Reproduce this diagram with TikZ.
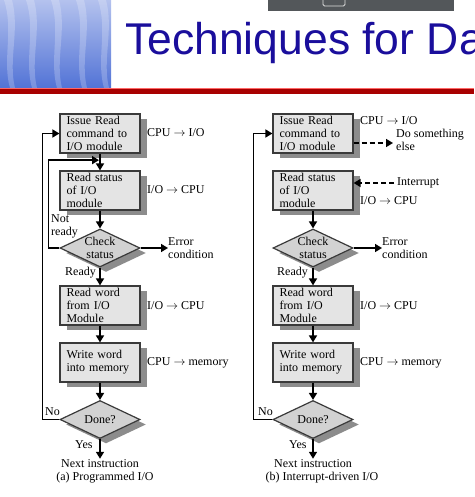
\documentclass[tikz,border=0pt]{standalone}
\usepackage{fontspec}
\setmainfont{Liberation Serif}
\newfontfamily\titlefont{Liberation Sans}
\usetikzlibrary{arrows.meta,shapes.geometric,shadows,calc}
\definecolor{titleblue}{HTML}{1A0E9C}
\definecolor{redline}{HTML}{A80000}
\definecolor{barGray}{HTML}{53575A}
\definecolor{boxfill}{HTML}{E4E4E4}
\definecolor{diafill}{HTML}{D2D2D2}
\definecolor{boxborder}{HTML}{3A3A3A}
\definecolor{shadowgray}{HTML}{8C8C8C}
\definecolor{hdrtop}{HTML}{B4C2EE}
\definecolor{hdrbot}{HTML}{5273D6}
\begin{document}
\begin{tikzpicture}[x=1pt,y=-1pt,
  every node/.style={font=\fontsize{12}{12.8}\selectfont},
  box/.style={draw=boxborder, line width=1.2pt, fill=boxfill, minimum width=80pt,
    minimum height=39pt, text width=67pt, inner xsep=6.5pt, inner ysep=0pt, align=left,
    drop shadow={shadow xshift=7pt, shadow yshift=-5pt, opacity=1, fill=shadowgray}},
  dia/.style={draw=boxborder, line width=1.2pt, fill=diafill, diamond, minimum width=80pt,
    minimum height=38pt, inner sep=0pt,
    drop shadow={shadow xshift=6pt, shadow yshift=-5pt, opacity=1, fill=shadowgray}},
  dtext/.style={inner sep=0pt, align=center},
  arr/.style={line width=1.6pt, -{Triangle[length=7pt,width=8pt]}},
  darr/.style={arr, dash pattern=on 5pt off 3pt},
  lbl/.style={inner sep=0pt, anchor=west, align=left},
  captxt/.style={inner sep=1pt, align=center}
]
\useasboundingbox (0,0) rectangle (474,497);
\begin{scope}
\clip (0,0) rectangle (474,497);
% header
\shade[top color=hdrtop, bottom color=hdrbot] (0,0) rectangle (111,88);
\foreach \xx in {8,30,55,80,102}{
  \fill[white, opacity=0.22] (\xx-4,0) .. controls (\xx+6,30) and (\xx-6,60) .. (\xx+2,88)
     -- (\xx+7,88) .. controls (\xx,60) and (\xx+12,30) .. (\xx+4,0) -- cycle;
}
\fill[barGray] (268,0) rectangle (454,11);
\draw[white!75!gray, line width=0.8pt, rounded corners=1.5pt] (323,-3) rectangle (345,6);
\node[anchor=base west, inner sep=0pt, text=titleblue,
  font=\titlefont\fontsize{44.5}{50}\selectfont] (title) at (125,55) {Techniques for Da};
\fill[redline] (0,88.5) rectangle (474,94);
\draw[red!60!white, line width=0.6pt] (0,88.3) -- (474,88.3);
\end{scope}

% ---------- (a) Programmed I/O ----------
\node[box] (a1) at (100,133.5) {Issue Read\\command to\\I/O module};
\node[box] (a2) at (100,190.5) {Read status\\of I/O\\module};
\node[dia] (ac) at (100,248) {};
\node[dtext] at (ac) {Check\\status};
\node[box] (a3) at (100,305.5) {Read word\\from I/O\\Module};
\node[box] (a4) at (100,362.5) {Write word\\into memory};
\node[dia] (ad) at (100,419.5) {};
\node[dtext] at (ad) {Done?};

\node[lbl] (la1) at (147,133) {CPU $\rightarrow$ I/O};
\node[lbl] (la2) at (147,190) {I/O $\rightarrow$ CPU};
\node[lbl] (aerr) at (168,248) {Error\\condition};
\node[lbl] (anr) at (51,226) {Not\\ready};
\node[lbl] (ardy) at (65,273) {Ready};
\node[lbl] (la3) at (147,306) {I/O $\rightarrow$ CPU};
\node[lbl] (la4) at (147,363) {CPU $\rightarrow$ memory};
\node[lbl] (ano) at (45,412) {No};
\node[lbl] (ayes) at (75,445) {Yes};
\node[captxt] (anext) at (100,464) {Next instruction};
\node[captxt] (acap) at (105,478) {(a) Programmed I/O};

\coordinate (anrj) at ($(a1.south)!0.39!(a2.north)$);
\draw[arr] (a1.south) -- (a2.north);
\draw[arr] (a2.south) -- (ac.north);
\draw[arr] (ac.west) -- ++(-11,0) |- ([xshift=-1pt]anrj);
\draw[arr] (ac.east) -- (aerr.west);
\draw[arr] (ac.south) -- (a3.north);
\draw[arr] (a3.south) -- (a4.north);
\draw[arr] (a4.south) -- (ad.north);
\draw[arr] (ad.west) -- ++(-17,0) |- (a1.west);
\draw[arr] (ad.south) -- (anext.north);

% ---------- (b) Interrupt-driven I/O ----------
\node[box] (b1) at (313,133.5) {Issue Read\\command to\\I/O module};
\node[box] (b2) at (313,190.5) {Read status\\of I/O\\module};
\node[dia] (bc) at (313,248) {};
\node[dtext] at (bc) {Check\\status};
\node[box] (b3) at (313,305.5) {Read word\\from I/O\\Module};
\node[box] (b4) at (313,362.5) {Write word\\into memory};
\node[dia] (bd) at (313,419.5) {};
\node[dtext] at (bd) {Done?};

\node[lbl] (lb1) at (360,121) {CPU $\rightarrow$ I/O};
\node[lbl] (bdo) at (396,140) {Do something\\else};
\node[lbl] (bint) at (397,183) {Interrupt};
\node[lbl] (lb2) at (360,201) {I/O $\rightarrow$ CPU};
\node[lbl] (berr) at (382,248) {Error\\condition};
\node[lbl] (brdy) at (277,273) {Ready};
\node[lbl] (lb3) at (360,306) {I/O $\rightarrow$ CPU};
\node[lbl] (lb4) at (360,363) {CPU $\rightarrow$ memory};
\node[lbl] (bno) at (258,412) {No};
\node[lbl] (byes) at (289,445) {Yes};
\node[captxt] (bnext) at (313,464) {Next instruction};
\node[captxt] (bcap) at (322,478) {(b) Interrupt-driven I/O};

\coordinate (bdoend) at (393,143);
\coordinate (bintst) at (394,183);
\draw[darr] (b1.east |- bdoend) -- (bdoend);
\draw[darr] (bintst) -- (b2.east |- bintst);
\draw[arr] (b2.south) -- (bc.north);
\draw[arr] (bc.east) -- (berr.west);
\draw[arr] (bc.south) -- (b3.north);
\draw[arr] (b3.south) -- (b4.north);
\draw[arr] (b4.south) -- (bd.north);
\draw[arr] (bd.west) -- ++(-19,0) |- (b1.west);
\draw[arr] (bd.south) -- (bnext.north);
\end{tikzpicture}
\end{document}
